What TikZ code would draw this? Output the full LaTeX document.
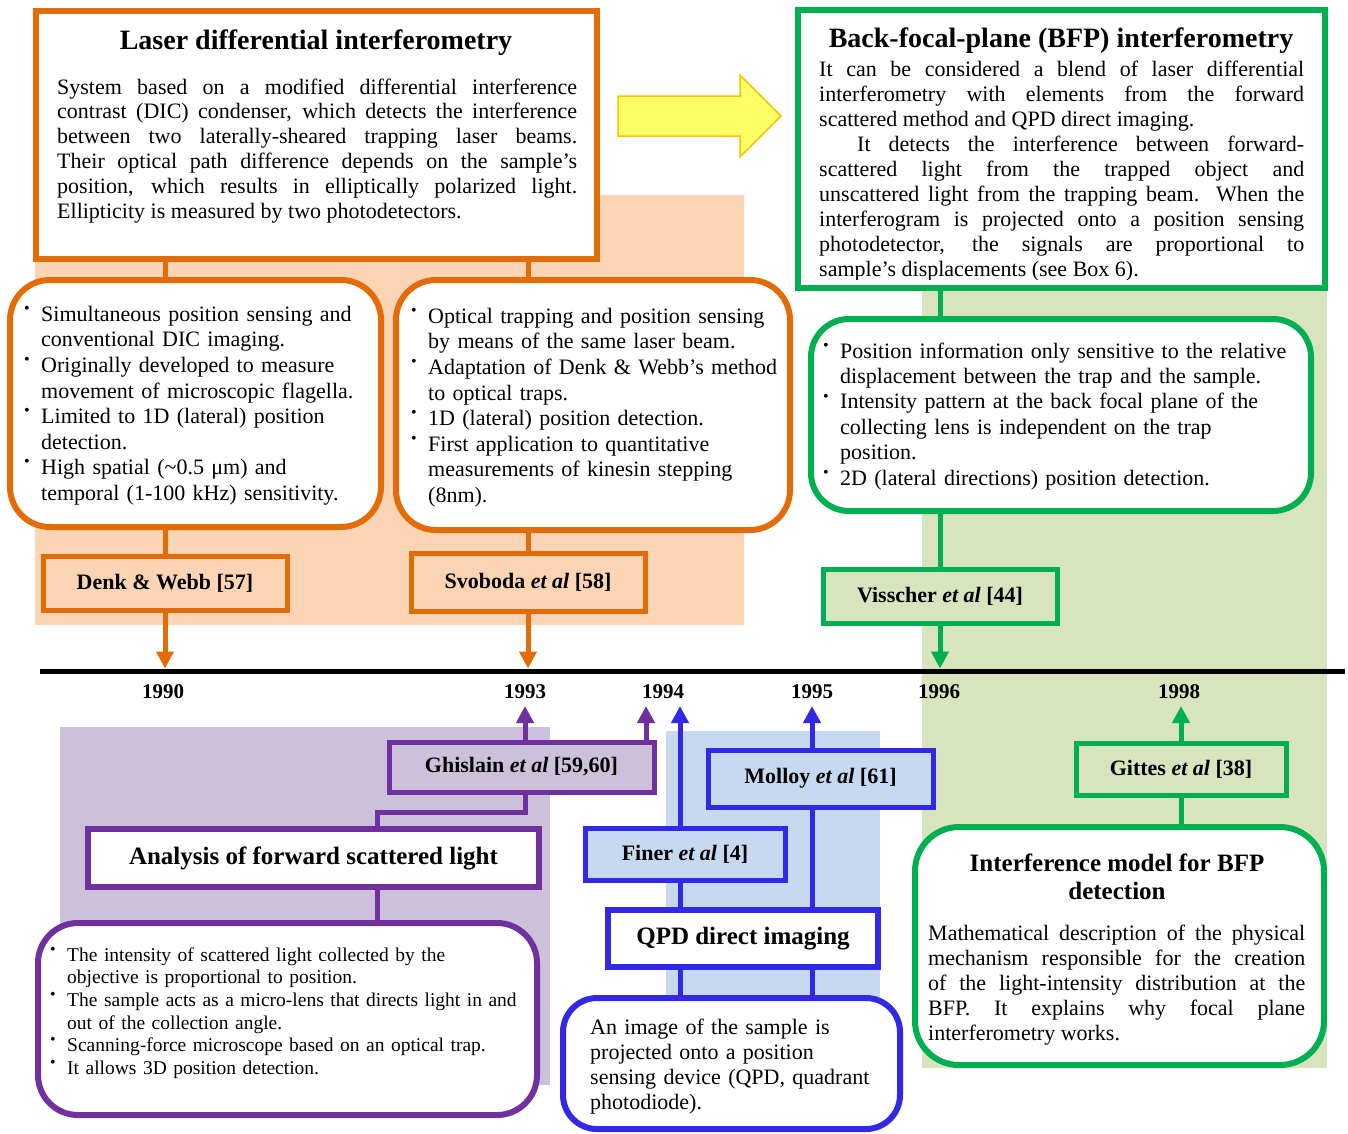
\documentclass[tikz,border=0pt]{standalone}
\usepackage{fontspec}
\setmainfont{Liberation Serif}
\usetikzlibrary{arrows.meta,positioning,calc}
\definecolor{laserorange}{RGB}{227,108,9}
\definecolor{laserpeach}{RGB}{251,212,180}
\definecolor{bfpgreen}{RGB}{0,176,80}
\definecolor{bfpsage}{RGB}{215,228,189}
\definecolor{fwdpurple}{RGB}{112,48,160}
\definecolor{fwdlilac}{RGB}{204,192,218}
\definecolor{qpdblue}{RGB}{51,40,232}
\definecolor{qpdsky}{RGB}{198,217,241}
\definecolor{blendyellow}{RGB}{255,255,102}
\definecolor{blendgold}{RGB}{255,192,0}
\newcommand{\bodyfont}[2]{\fontsize{#1}{#2}\selectfont}
\newcommand{\bitem}[1]{\noindent\hangindent=17pt\hangafter=1
  \makebox[17pt][l]{\strut\raisebox{0.36em}{\fontsize{16}{16}\selectfont\textbullet}}#1\par}
\tikzset{
  framebox/.style = {draw=#1, line width=6pt, fill=white, inner sep=0pt},
  roundbox/.style = {framebox=#1, rounded corners=40pt},
  refbox/.style   = {draw=#1, line width=5pt, inner sep=0pt,
                     font=\bfseries\bodyfont{22}{26}},
  link/.style     = {draw=#1, line width=5pt},
  pointer/.style  = {link=#1, -{Triangle[width=17pt,length=17pt]}},
  headline/.style = {font=\bfseries\bodyfont{28}{32}, inner sep=0pt, anchor=base},
  subhead/.style  = {font=\bfseries\bodyfont{25}{28}, inner sep=0pt, align=center},
  parabox/.style  = {inner sep=0pt, anchor=north west, align=justify,
                     font=\bodyfont{22}{25}},
  listbox/.style  = {inner sep=0pt, anchor=north west, align=left},
  year/.style     = {font=\bfseries\bodyfont{21}{21}, inner sep=0pt},
}
\begin{document}
\begin{tikzpicture}[x=1pt,y=-1pt]
  \useasboundingbox (0,0) rectangle (1348,1133);

  % shaded panels
  \fill[laserpeach] (35,195)  rectangle (744,625);
  \fill[bfpsage]    (922,280) rectangle (1327,1068);
  \fill[fwdlilac]   (60,727)  rectangle (550,1085);
  \fill[qpdsky]     (666,731) rectangle (880,997);

  % time axis
  \coordinate (tlL) at (40,671);
  \coordinate (tlR) at (1345,671);
  \coordinate (tips) at (0,706);
  \draw[line width=5pt] (tlL) -- (tlR);
  \node[year] (y1990) at (163,692) {1990};
  \node[year] (y1993) at (525,692) {1993};
  \node[year] (y1994) at (663,692) {1994};
  \node[year] (y1995) at (812,692) {1995};
  \node[year] (y1996) at (939,692) {1996};
  \node[year] (y1998) at (1179,692) {1998};

  % blend arrow
  \draw[fill=blendyellow, draw=blendgold, line width=1.5pt]
    (618,96) -- (740,96) -- (740,75) -- (781,116) -- (740,157)
    -- (740,136) -- (618,136) -- cycle;

  % laser differential interferometry
  \node[framebox=laserorange, minimum width=561pt, minimum height=248pt] (lasbox) at (316.5,135) {};
  \node[headline] (lastitle) at (316,49) {Laser differential interferometry};
  \node[parabox, text width=520pt, font=\bodyfont{22}{24.8}] (lastext) at (57,76.6)
    {\strut System based on a modified differential interference\linebreak
     contrast (DIC) condenser, which detects the interference\linebreak
     between two laterally-sheared trapping laser beams.\linebreak
     Their optical path difference depends on the sample’s\linebreak
     position, which results in elliptically polarized light.\linebreak
     Ellipticity is measured by two photodetectors.};

  \node[roundbox=laserorange, minimum width=371pt, minimum height=247pt] (denkrb) at (195.5,403.5) {};
  \node[listbox, text width=360pt, font=\bodyfont{22}{25.6}] (denklist) at (24,303.1)
    {\bitem{Simultaneous position sensing and\newline conventional DIC imaging.}
     \bitem{Originally developed to measure\newline movement of microscopic flagella.}
     \bitem{Limited to 1D (lateral) position\newline detection.}
     \bitem{High spatial (\textasciitilde0.5 μm) and\newline temporal (1-100 kHz) sensitivity.}};

  \node[roundbox=laserorange, minimum width=394pt, minimum height=250pt] (svobrb) at (593,405) {};
  \node[listbox, text width=375pt, font=\bodyfont{22}{25.6}] (svoblist) at (411,305.1)
    {\bitem{Optical trapping and position sensing\newline by means of the same laser beam.}
     \bitem{Adaptation of Denk \& Webb’s method\newline to optical traps.}
     \bitem{1D (lateral) position detection.}
     \bitem{First application to quantitative\newline measurements of kinesin stepping\newline (8nm).}};

  \node[refbox=laserorange, fill=laserpeach, minimum width=244pt, minimum height=54pt] (denk) at (165,583) {Denk \& Webb [57]};
  \node[refbox=laserorange, fill=laserpeach, minimum width=234pt, minimum height=58pt] (svoboda) at (528,582) {Svoboda \textit{et al} [58]};

  \draw[link=laserorange] (lasbox.south -| denk) -- (denkrb.north -| denk);
  \draw[link=laserorange] (lasbox.south -| svoboda) -- (svobrb.north -| svoboda);
  \draw[link=laserorange] (denkrb.south -| denk) -- (denk.north);
  \draw[link=laserorange] (svobrb.south -| svoboda) -- (svoboda.north);
  \draw[pointer=laserorange, shorten >=2.5pt] (denk.south) -- (denk.south |- tlL);
  \draw[pointer=laserorange, shorten >=2.5pt] (svoboda.south) -- (svoboda.south |- tlL);

  % back-focal-plane interferometry
  \node[framebox=bfpgreen, minimum width=527pt, minimum height=278pt] (bfpbox) at (1061.5,149) {};
  \node[headline] (bfptitle) at (1061,47) {Back-focal-plane (BFP) interferometry};
  \begin{scope}
    \clip (801,13) rectangle (1322,279);
    \node[parabox, text width=485pt] (bfptext) at (819,58.5)
      {\strut It can be considered a blend of laser differential\linebreak
       interferometry with elements from the forward\linebreak
       scattered method and QPD direct imaging.\par\noindent\hspace*{38pt}%
       It detects the interference between forward-\linebreak
       scattered light from the trapped object and\linebreak
       unscattered light from the trapping beam. When the\linebreak
       interferogram is projected onto a position sensing\linebreak
       photodetector, the signals are proportional to\linebreak
       sample’s displacements (see Box 6).};
  \end{scope}

  \node[roundbox=bfpgreen, rounded corners=38pt, minimum width=500pt, minimum height=192pt] (bfprb) at (1061,415) {};
  \node[listbox, text width=490pt, font=\bodyfont{22}{25.4}] (bfplist) at (823,340.2)
    {\bitem{Position information only sensitive to the relative\newline displacement between the trap and the sample.}
     \bitem{Intensity pattern at the back focal plane of the\newline collecting lens is independent on the trap\newline position.}
     \bitem{2D (lateral directions) position detection.}};

  \node[refbox=bfpgreen, fill=bfpsage, minimum width=234pt, minimum height=54pt] (visscher) at (940,596) {Visscher \textit{et al} [44]};

  \draw[link=bfpgreen] (bfpbox.south -| visscher) -- (bfprb.north -| visscher);
  \draw[link=bfpgreen] (bfprb.south -| visscher) -- (visscher.north);
  \draw[pointer=bfpgreen, shorten >=2.5pt] (visscher.south) -- (visscher.south |- tlL);

  % forward scattered light
  \node[refbox=fwdpurple, fill=fwdlilac, minimum width=265pt, minimum height=50pt] (ghislain) at (521.5,767) {Ghislain \textit{et al} [59,60]};
  \node[framebox=fwdpurple, minimum width=451pt, minimum height=58pt,
        font=\bfseries\bodyfont{25}{28}] (fwdbox) at (313.5,858) {Analysis of forward scattered light};
  \node[roundbox=fwdpurple, minimum width=499pt, minimum height=192pt] (fwdrb) at (287.5,1019) {};
  \node[listbox, text width=480pt, font=\bodyfont{19.5}{22.6}] (fwdlist) at (50,945.2)
    {\bitem{The intensity of scattered light collected by the\newline objective is proportional to position.}
     \bitem{The sample acts as a micro-lens that directs light in and\newline out of the collection angle.}
     \bitem{Scanning-force microscope based on an optical trap.}
     \bitem{It allows 3D position detection.}};

  \coordinate (ghisR) at (646,706);
  \coordinate (fwdjoin) at (377,812);
  \draw[pointer=fwdpurple] (ghislain.north -| y1993) -- (y1993 |- tips);
  \draw[pointer=fwdpurple] (ghislain.north -| ghisR) -- (ghisR);
  \draw[link=fwdpurple] (ghislain.south -| y1993) |- (fwdjoin) -- (fwdbox.north -| fwdjoin);
  \draw[link=fwdpurple] (fwdbox.south -| fwdjoin) -- (fwdrb.north -| fwdjoin);

  % QPD direct imaging
  \node[refbox=qpdblue, fill=qpdsky, minimum width=200pt, minimum height=52pt] (finer) at (685,854) {Finer \textit{et al} [4]};
  \node[refbox=qpdblue, fill=qpdsky, minimum width=225pt, minimum height=57pt] (molloy) at (820.5,778.5) {Molloy \textit{et al} [61]};
  \node[framebox=qpdblue, minimum width=270pt, minimum height=57pt,
        font=\bfseries\bodyfont{25}{28}] (qpdbox) at (743,938.5) {QPD direct imaging};
  \node[roundbox=qpdblue, rounded corners=34pt, minimum width=337pt, minimum height=131pt] (qpdrb) at (731.5,1063.5) {};
  \node[listbox, text width=310pt, font=\bodyfont{22}{25}] (qpdtext) at (590,1016.5)
    {\strut An image of the sample is\newline projected onto a position\newline
     sensing device (QPD, quadrant\newline photodiode).};

  \coordinate (finerR) at (680,706);
  \draw[pointer=qpdblue] (finer.north -| finerR) -- (finerR);
  \draw[pointer=qpdblue] (molloy.north -| y1995) -- (y1995 |- tips);
  \draw[link=qpdblue] (finer.south -| finerR) -- (qpdbox.north -| finerR);
  \draw[link=qpdblue] (molloy.south -| y1995) -- (qpdbox.north -| y1995);
  \draw[link=qpdblue] (qpdbox.south -| finerR) -- (qpdrb.north -| finerR);
  \draw[link=qpdblue] (qpdbox.south -| y1995) -- (qpdrb.north -| y1995);

  % interference model
  \node[refbox=bfpgreen, fill=bfpsage, minimum width=210pt, minimum height=52pt] (gittes) at (1181,769) {Gittes \textit{et al} [38]};
  \node[roundbox=bfpgreen, rounded corners=44pt, minimum width=409pt, minimum height=238pt] (modelrb) at (1119.5,946) {};
  \node[subhead, anchor=north] (modeltitle) at (1117,851.4) {\strut Interference model for BFP\\detection};
  \node[parabox, text width=377pt] (modeltext) at (928,922.5)
    {\strut Mathematical description of the physical\linebreak
     mechanism responsible for the creation\linebreak
     of the light-intensity distribution at the\linebreak
     BFP. It explains why focal plane\linebreak
     interferometry works.};

  \draw[pointer=bfpgreen] (gittes.north) -- (gittes.north |- tips);
  \draw[link=bfpgreen] (gittes.south) -- (modelrb.north -| gittes);
\end{tikzpicture}
\end{document}
